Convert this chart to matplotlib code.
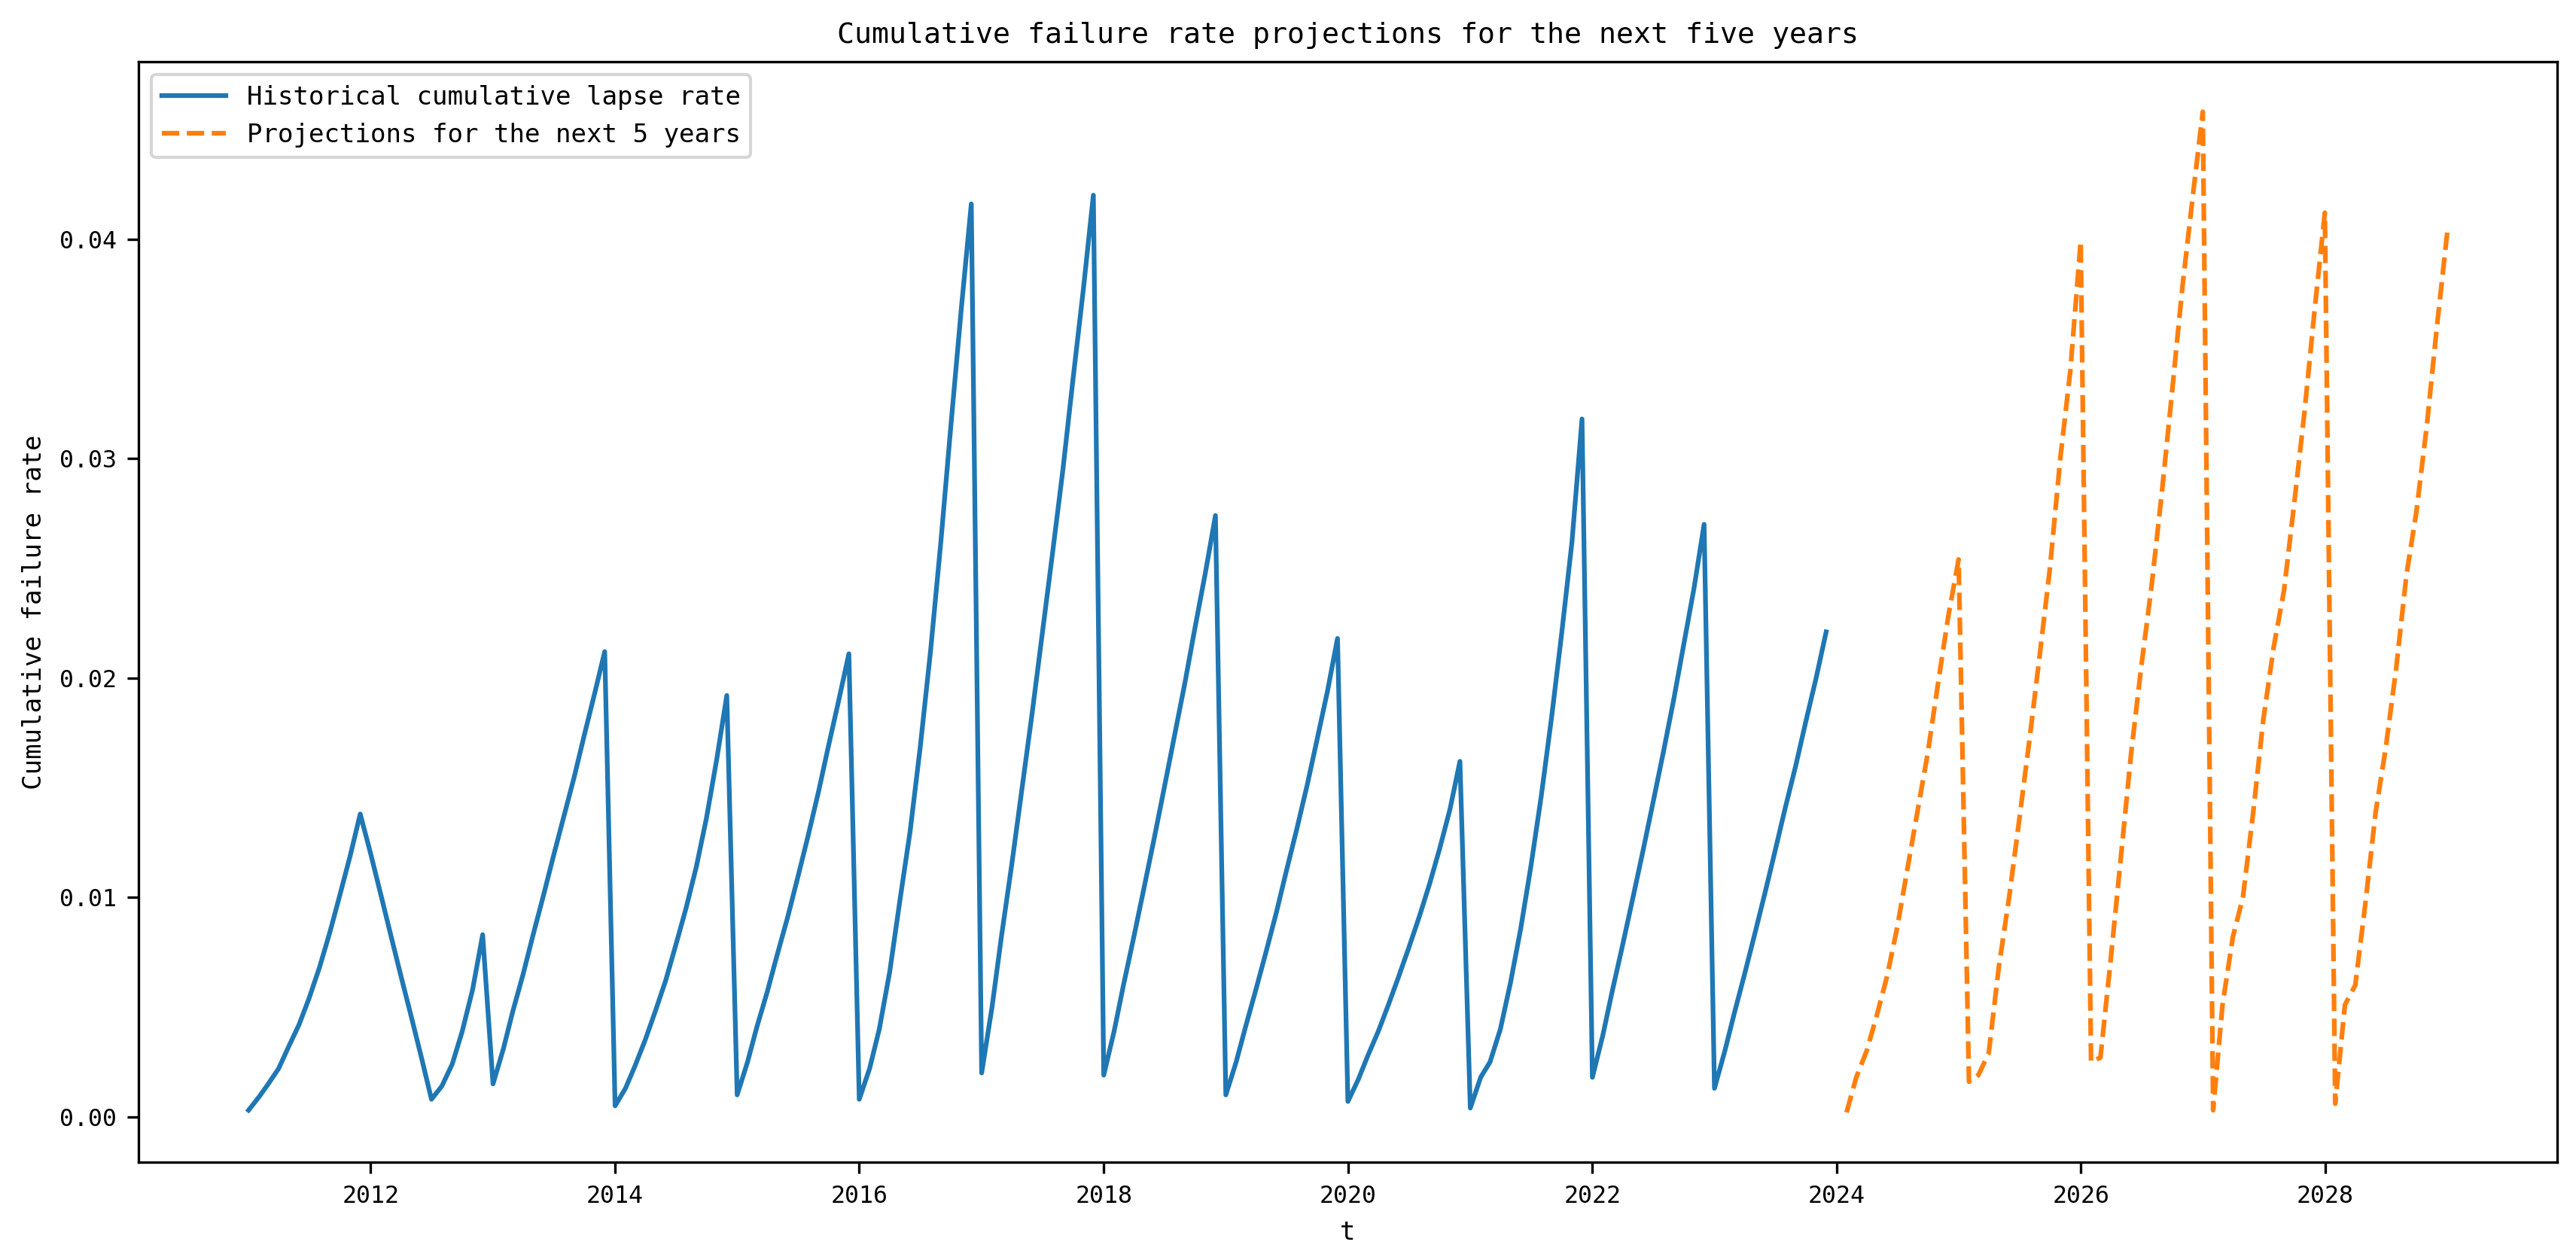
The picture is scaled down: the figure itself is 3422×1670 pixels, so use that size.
import matplotlib
matplotlib.use('Agg')
import matplotlib.pyplot as plt
import matplotlib.dates as mdates
import pandas as pd

# historical monthly cumulative lapse rate, 2011-01 .. 2023-12
hist_start = '2011-01-01'
hist_rate = [
    0.0003, 0.0009, 0.0015, 0.0022, 0.0032, 0.0042, 0.0054, 0.0068, 0.0084, 0.0101, 0.0119, 0.0138,  # 2011
    0.0120, 0.0101, 0.0083, 0.0064, 0.0046, 0.0027, 0.0008, 0.0014, 0.0024, 0.0039, 0.0058, 0.0083,  # 2012
    0.0015, 0.0031, 0.0048, 0.0065, 0.0083, 0.0101, 0.0119, 0.0137, 0.0155, 0.0174, 0.0193, 0.0212,  # 2013
    0.0005, 0.0013, 0.0023, 0.0035, 0.0048, 0.0062, 0.0078, 0.0095, 0.0114, 0.0136, 0.0163, 0.0192,  # 2014
    0.0010, 0.0025, 0.0041, 0.0057, 0.0074, 0.0091, 0.0109, 0.0128, 0.0148, 0.0169, 0.0190, 0.0211,  # 2015
    0.0008, 0.0022, 0.0040, 0.0066, 0.0098, 0.0130, 0.0168, 0.0212, 0.0262, 0.0315, 0.0368, 0.0416,  # 2016
    0.0020, 0.0050, 0.0082, 0.0115, 0.0149, 0.0184, 0.0220, 0.0257, 0.0295, 0.0336, 0.0377, 0.0420,  # 2017
    0.0019, 0.0039, 0.0060, 0.0082, 0.0104, 0.0127, 0.0150, 0.0174, 0.0198, 0.0223, 0.0248, 0.0274,  # 2018
    0.0010, 0.0025, 0.0041, 0.0058, 0.0075, 0.0093, 0.0112, 0.0131, 0.0151, 0.0172, 0.0194, 0.0218,  # 2019
    0.0007, 0.0017, 0.0028, 0.0039, 0.0051, 0.0064, 0.0077, 0.0091, 0.0106, 0.0122, 0.0140, 0.0162,  # 2020
    0.0004, 0.0018, 0.0025, 0.0040, 0.0061, 0.0086, 0.0114, 0.0146, 0.0182, 0.0220, 0.0262, 0.0318,  # 2021
    0.0018, 0.0037, 0.0057, 0.0078, 0.0099, 0.0121, 0.0143, 0.0166, 0.0190, 0.0215, 0.0241, 0.0270,  # 2022
    0.0013, 0.0030, 0.0047, 0.0065, 0.0083, 0.0102, 0.0121, 0.0141, 0.0160, 0.0180, 0.0200, 0.0221,  # 2023
]

# projection, month ends 2024-01 .. 2028-12
proj_start = '2024-02-01'
proj_rate = [
    0.0002, 0.0018, 0.0030, 0.0046, 0.0064, 0.0086, 0.0113, 0.0140, 0.0166, 0.0198, 0.0228, 0.0254,  # 2024
    0.0016, 0.0019, 0.0029, 0.0068, 0.0100, 0.0135, 0.0172, 0.0211, 0.0250, 0.0300, 0.0340, 0.0399,  # 2025
    0.0025, 0.0027, 0.0072, 0.0118, 0.0166, 0.0205, 0.0242, 0.0285, 0.0330, 0.0378, 0.0418, 0.0458,  # 2026
    0.0003, 0.0051, 0.0082, 0.0100, 0.0139, 0.0181, 0.0214, 0.0240, 0.0279, 0.0321, 0.0367, 0.0412,  # 2027
    0.0006, 0.0051, 0.0060, 0.0097, 0.0139, 0.0168, 0.0204, 0.0247, 0.0276, 0.0315, 0.0360, 0.0403,  # 2028
]

hist_dates = pd.date_range(hist_start, periods=len(hist_rate), freq='MS')
proj_dates = pd.date_range(proj_start, periods=len(proj_rate), freq='MS') - pd.Timedelta(days=1)

plt.rcParams['font.family'] = ['DejaVu Sans Mono']

fig = plt.figure(figsize=(3422 / 300, 1670 / 300), dpi=300)
ax = fig.add_subplot(111)
fig.subplots_adjust(left=0.0538, right=0.9927, bottom=0.0752, top=0.9509)

ax.plot(hist_dates, hist_rate, color='#1f77b4', lw=1.5, label='Historical cumulative lapse rate')
ax.plot(proj_dates, proj_rate, color='#ff7f0e', lw=1.5, ls='--', label='Projections for the next 5 years')

ax.xaxis.set_major_locator(mdates.YearLocator(2))
ax.xaxis.set_major_formatter(mdates.DateFormatter('%Y'))
ax.tick_params(labelsize=7.6)

ax.set_title('Cumulative failure rate projections for the next five years', fontsize=9.2)
ax.set_xlabel('t', fontsize=8.2)
ax.set_ylabel('Cumulative failure rate', fontsize=8.2)
ax.legend(loc='upper left', fontsize=8.2, handlelength=2.5)

fig.savefig('out.png', dpi=300)
